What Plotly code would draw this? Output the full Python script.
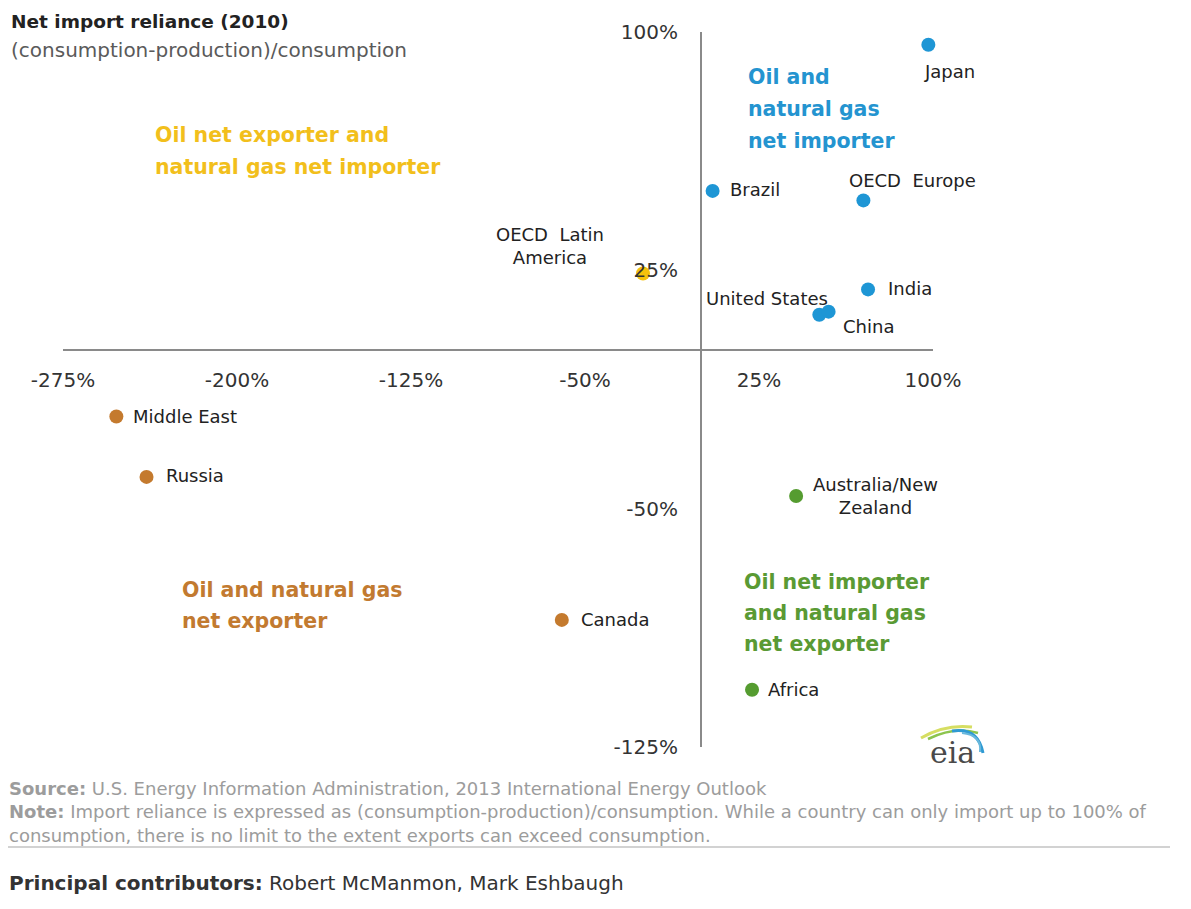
import plotly.graph_objects as go

# ---------------- data ----------------
regions = ["Japan", "Brazil", "OECD Europe", "India", "United States", "China",
           "OECD Latin America", "Middle East", "Russia", "Canada",
           "Australia/New Zealand", "Africa"]
oil_reliance = [98, 5, 70, 72, 51, 55, -25, -252, -239, -60, 41, 22]
gas_reliance = [96, 50, 47, 19, 11, 12, 24, -21, -40, -85, -46, -107]

x_tickvals = [-275, -200, -125, -50, 25, 100]
x_ticktext = ["-275%", "-200%", "-125%", "-50%", "25%", "100%"]
y_tickvals = [-125, -50, 25, 100]
y_ticktext = ["-125%", "-50%", "25%", "100%"]

quadrant_titles = {
    "imp_imp": ["Oil and", "natural gas", "net importer"],
    "exp_imp": ["Oil net exporter and", "natural gas net importer"],
    "exp_exp": ["Oil and natural gas", "net exporter"],
    "imp_exp": ["Oil net importer", "and natural gas", "net exporter"],
}

# ---------------- styles ----------------
OFF = 8                      # page body margin
W, H = 1191 - OFF, 909 - OFF
# plot area in screen pixels: x 63..933, y 32..747
ML, MT = 63 - OFF, 32 - OFF
PW, PH = 870, 715
MR, MB = W - ML - PW, H - MT - PH
FONT = "DejaVu Sans"

COLORS = {"imp_imp": "#1E96D5", "exp_imp": "#F4C20D",
          "exp_exp": "#C47A2E", "imp_exp": "#559C30"}
TEXT_COLORS = {"imp_imp": "#2494D0", "exp_imp": "#F2BF1C",
               "exp_exp": "#C27A30", "imp_exp": "#5A9A34"}


def quadrant(o, g):
    return ("imp" if o >= 0 else "exp") + "_" + ("imp" if g >= 0 else "exp")


def px(x):
    """screen pixel x -> paper fraction"""
    return (x - OFF - ML) / PW


def py(y):
    """screen pixel y -> paper fraction"""
    return (MT + PH - (y - OFF)) / PH


label_style = {
    "Japan": dict(text="Japan", xanchor="left", xshift=-6, yshift=-27),
    "Brazil": dict(text="Brazil", xanchor="left", xshift=15, yshift=1),
    "OECD Europe": dict(text="OECD&nbsp;&nbsp;Europe", xanchor="left", xshift=-16, yshift=20),
    "India": dict(text="India", xanchor="left", xshift=18, yshift=1),
    "United States": dict(text="United States", xanchor="right", xshift=11, yshift=16),
    "China": dict(text="China", xanchor="left", xshift=12, yshift=-15),
    "OECD Latin America": dict(text="OECD&nbsp;&nbsp;Latin<br>America", xanchor="center",
                               xshift=-93, yshift=28),
    "Middle East": dict(text="Middle East", xanchor="left", xshift=15, yshift=0),
    "Russia": dict(text="Russia", xanchor="left", xshift=17, yshift=1),
    "Canada": dict(text="Canada", xanchor="left", xshift=17, yshift=0),
    "Australia/New Zealand": dict(text="Australia/New<br>Zealand", xanchor="left",
                                  xshift=15, yshift=0),
    "Africa": dict(text="Africa", xanchor="left", xshift=14, yshift=0),
}

# quadrant title placement (pixel left edge, first-line centre y, line spacing)
title_pos = {
    "exp_imp": (153, 135, 32),
    "imp_imp": (746, 77, 32),
    "exp_exp": (180, 590, 31),
    "imp_exp": (742, 582, 31),
}

fig = go.Figure()

fig.add_trace(go.Scatter(
    x=oil_reliance, y=gas_reliance, mode="markers",
    marker=dict(size=14, color=[COLORS[quadrant(o, g)] for o, g in zip(oil_reliance, gas_reliance)],
                line=dict(width=0)),
    text=regions, hoverinfo="text", cliponaxis=False, showlegend=False,
))

annotations = []
for name, o, g in zip(regions, oil_reliance, gas_reliance):
    st = label_style[name]
    annotations.append(dict(
        x=o, y=g, xref="x", yref="y", showarrow=False, text=st["text"],
        xanchor=st["xanchor"], yanchor="middle", xshift=st["xshift"], yshift=st["yshift"],
        align="center", font=dict(family=FONT, size=18, color="#222222"),
    ))

for key, lines in quadrant_titles.items():
    x0, y0, dy = title_pos[key]
    for i, line in enumerate(lines):
        annotations.append(dict(
            x=px(x0), y=py(y0 + i * dy), xref="paper", yref="paper", showarrow=False,
            text="<b>" + line + "</b>", xanchor="left", yanchor="middle",
            font=dict(family=FONT, size=20.5, color=TEXT_COLORS[key]),
        ))

# title / subtitle
annotations.append(dict(x=px(9), y=py(21), xref="paper", yref="paper", showarrow=False,
                        text="<b>Net import reliance (2010)</b>", xanchor="left", yanchor="middle",
                        font=dict(family=FONT, size=18.5, color="#222222")))
annotations.append(dict(x=px(9), y=py(50), xref="paper", yref="paper", showarrow=False,
                        text="(consumption-production)/consumption", xanchor="left", yanchor="middle",
                        font=dict(family=FONT, size=20, color="#5a5a5a")))

# footer
footer_lines = [
    (788, "<b>Source:</b> U.S. Energy Information Administration, 2013 International Energy Outlook"),
    (811.5, "<b>Note:</b> Import reliance is expressed as (consumption-production)/consumption. "
            "While a country can only import up to 100% of"),
    (835, "consumption, there is no limit to the extent exports can exceed consumption."),
]
for yy, txt in footer_lines:
    annotations.append(dict(x=px(7), y=py(yy), xref="paper", yref="paper", showarrow=False,
                            text=txt, xanchor="left", yanchor="middle",
                            font=dict(family=FONT, size=18, color="#9c9c9c")))
annotations.append(dict(x=px(7), y=py(883), xref="paper", yref="paper", showarrow=False,
                        text="<b>Principal contributors:</b> Robert McManmon, Mark Eshbaugh",
                        xanchor="left", yanchor="middle",
                        font=dict(family=FONT, size=20, color="#333333")))

# eia logo text
annotations.append(dict(x=px(952), y=py(752), xref="paper", yref="paper", showarrow=False,
                        text="eia", xanchor="center", yanchor="middle",
                        font=dict(family="DejaVu Serif", size=30, color="#4a4a4a")))

shapes = [
    dict(type="line", xref="paper", yref="paper", x0=px(7), x1=px(1170), y0=py(847), y1=py(847),
         line=dict(color="#d2d2d2", width=2)),
]


def arc(p0, c, p1, color, width):
    path = f"M {px(p0[0])},{py(p0[1])} Q {px(c[0])},{py(c[1])} {px(p1[0])},{py(p1[1])}"
    return dict(type="path", xref="paper", yref="paper", path=path,
                line=dict(color=color, width=width))


shapes += [
    arc((921, 738), (945, 724), (972, 727), "#d6de62", 3),
    arc((928, 739), (955, 726), (978, 733), "#8cc44e", 2.5),
    arc((952, 731), (978, 727), (983, 753), "#2f9ad3", 3),
    arc((962, 733), (982, 735), (980, 752), "#69b8dc", 2),
]

fig.update_layout(
    width=W, height=H,
    margin=dict(l=ML, r=MR, t=MT, b=MB),
    paper_bgcolor="white", plot_bgcolor="white",
    annotations=annotations, shapes=shapes,
    xaxis=dict(range=[-275, 100], tickvals=x_tickvals, ticktext=x_ticktext,
               showgrid=False, zeroline=False, showline=True, linecolor="#8a8a8a", linewidth=2,
               anchor="free", position=125 / 225, ticks="", ticklabelstandoff=12,
               tickfont=dict(family=FONT, size=20, color="#333333"), fixedrange=True),
    yaxis=dict(range=[-125, 100], tickvals=y_tickvals, ticktext=y_ticktext,
               showgrid=False, zeroline=False, showline=True, linecolor="#8a8a8a", linewidth=2,
               anchor="free", position=275 / 375, ticks="", ticklabelstandoff=18,
               tickfont=dict(family=FONT, size=20, color="#333333"), fixedrange=True),
    hovermode="closest",
)

fig.write_html("out.html")
